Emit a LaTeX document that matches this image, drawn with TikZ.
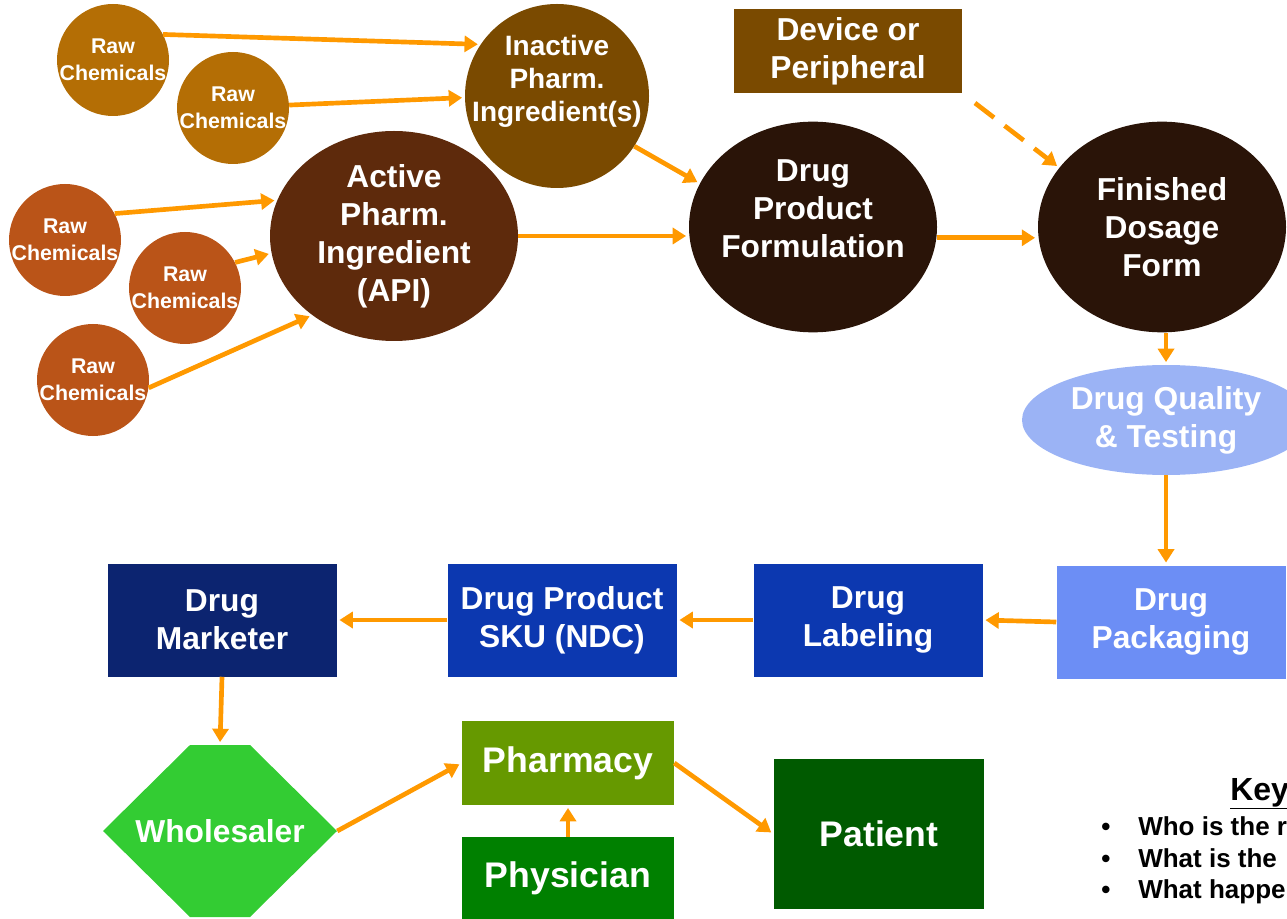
\documentclass[tikz,border=0pt]{standalone}
\usepackage{fontspec}
\setmainfont{Liberation Sans}
\usetikzlibrary{shapes.geometric,arrows.meta}

\definecolor{rawgold}{HTML}{B46E05}
\definecolor{rawrust}{HTML}{BA5418}
\definecolor{inactbrown}{HTML}{7A4A00}
\definecolor{apibrown}{HTML}{5E2A0C}
\definecolor{darkbrown}{HTML}{2A1408}
\definecolor{qcblue}{HTML}{9BB3F5}
\definecolor{packblue}{HTML}{6C8EF5}
\definecolor{midblue}{HTML}{0C38B0}
\definecolor{navyblue}{HTML}{0C2470}
\definecolor{wholegreen}{HTML}{33CC33}
\definecolor{pharmgreen}{HTML}{669900}
\definecolor{physgreen}{HTML}{008000}
\definecolor{patgreen}{HTML}{005A00}
\definecolor{flowor}{HTML}{FF9900}

\tikzset{
  bigfont/.style={font=\bfseries\fontsize{23.8}{28.5}\selectfont},
  lbl/.style={text=white, align=center, inner sep=0pt, bigfont},
  rawlbl/.style={text=white, align=center, inner sep=0pt, font=\bfseries\fontsize{16}{20}\selectfont},
  raw/.style={circle, minimum size=84pt, inner sep=0pt},
  blob/.style={ellipse, minimum width=186pt, minimum height=158pt, inner sep=0pt},
  box/.style={rectangle, minimum width=171.75pt, minimum height=84.75pt, inner sep=0pt, lbl},
  greenbox/.style={rectangle, minimum width=159pt, inner sep=0pt, text=white, font=\bfseries\fontsize{26.7}{32}\selectfont},
  flow/.style={draw=flowor, line width=3.5pt, -{Triangle[length=10pt,width=12pt]}, shorten >=2pt},
  keyitem/.style={anchor=base west, inner sep=0pt, font=\bfseries\fontsize{19.5}{23}\selectfont}
}

\begin{document}
\begin{tikzpicture}[x=0.75pt,y=-0.75pt]
\useasboundingbox (0,0) rectangle (1287,919);
\clip (0,0) rectangle (1287,919);

% Raw chemicals
\foreach \n/\x/\y/\c in {1/113/60/rawgold, 2/233/108/rawgold, 3/65/240/rawrust, 4/185/288/rawrust, 5/93/380/rawrust}
  \node[raw, fill=\c, label={[rawlbl]center:{Raw\\Chemicals}}] (raw\n) at (\x,\y) {};

% Ingredients and product
\node[circle, minimum size=138pt, inner sep=0pt, fill=inactbrown,
  label={[lbl, yshift=11pt, font=\bfseries\fontsize{21}{25}\selectfont]center:{Inactive\\Pharm.\\Ingredient(s)}}] (inact) at (557,96) {};
\node[blob, minimum height=157.5pt, fill=apibrown,
  label={[lbl]center:{Active\\Pharm.\\Ingredient\\(API)}}] (api) at (394,236) {};
\node[blob, fill=darkbrown,
  label={[lbl, yshift=13.5pt]center:{Drug\\Product\\Formulation}}] (dpf) at (813,227) {};
\node[blob, fill=darkbrown,
  label={[lbl]center:{Finished\\Dosage\\Form}}] (fdf) at (1162,227) {};
\node[rectangle, minimum width=171pt, minimum height=63pt, fill=inactbrown, lbl] (dev) at (848,51) {Device or\\Peripheral};
\node[ellipse, minimum width=216pt, minimum height=82.5pt, fill=qcblue, lbl] (qc) at (1166,420) {Drug Quality\\\& Testing};

% Packaging to market
\node[box, fill=packblue] (pack) at (1171,622) {Drug\\Packaging};
\node[box, fill=midblue] (lab) at (868,620) {Drug\\Labeling};
\node[box, fill=midblue] (sku) at (562,620) {Drug Product\\SKU (NDC)};
\node[box, fill=navyblue] (mark) at (222,620) {Drug\\Marketer};

% Distribution
\node[rectangle, minimum width=175.5pt, minimum height=129pt, inner sep=0pt, text=white,
  font=\bfseries\fontsize{23.8}{28.5}\selectfont,
  path picture={\fill[wholegreen] (path picture bounding box.west)
    -- ([xshift=-22.5pt]path picture bounding box.north) -- ([xshift=22.5pt]path picture bounding box.north)
    -- (path picture bounding box.east)
    -- ([xshift=22.5pt]path picture bounding box.south) -- ([xshift=-22.5pt]path picture bounding box.south) -- cycle;}]
  (whole) at (220,831) {Wholesaler};
\node[greenbox, minimum height=63pt, fill=pharmgreen] (pharm) at (568,763) {Pharmacy};
\node[greenbox, minimum height=61.5pt, fill=physgreen] (phys) at (568,878) {Physician};
\node[greenbox, minimum width=158pt, minimum height=112pt, fill=patgreen] (pat) at (879,834) {Patient};

% Key
\node[anchor=base west, inner sep=0pt, font=\bfseries\fontsize{24}{28}\selectfont] (key) at (1230,800) {\underline{Key}};
\foreach \txt [count=\i] in {Who is the r, What is the, What happe}
  \node[keyitem] (item\i) at (1101,804+31.5*\i) {\makebox[27.75pt][l]{\textbullet}\txt};

% Flows
\draw[flow] (raw1.27) -- (inact.146);
\draw[flow] (raw2.3) -- (inact.181);
\draw[flow] (raw3.28) -- (api.163);
\draw[flow] (raw4.27) -- (api.188);
\draw[flow] (raw5.-8) -- (api.224);
\draw[flow] (inact.-33) -- (dpf.159);
\draw[flow] (api.east) -- (api.east -| dpf.west);
\draw[flow] (dpf.-5) -- (dpf.-5 -| fdf.west);
\draw[flow, dash pattern=on 18pt off 10pt, shorten <=12pt] (dev.south east) -- (fdf.150);
\draw[flow] (qc.north |- fdf.south) -- (qc.north);
\draw[flow] (qc.south) -- (qc.south |- pack.north);
\draw[flow] (pack.west) -- (lab.east);
\draw[flow] (lab.west) -- (sku.east);
\draw[flow] (sku.west) -- (mark.east);
\draw[flow] (mark.south) -- (whole.north);
\draw[flow] (whole.east) -- (pharm.west);
\draw[flow] (phys.north) -- (pharm.south);
\draw[flow] (pharm.east) -- (pat.west);

\end{tikzpicture}
\end{document}
